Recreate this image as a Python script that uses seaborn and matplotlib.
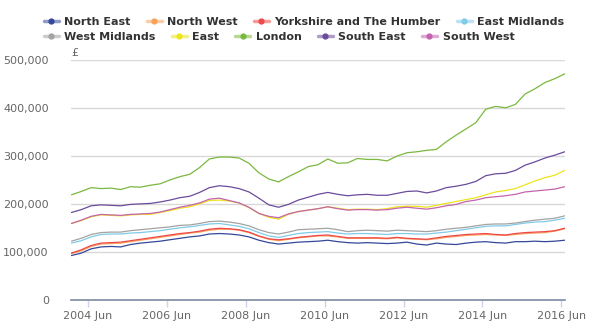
import matplotlib
matplotlib.use("Agg")
import matplotlib.pyplot as plt
import matplotlib.dates as mdates
from matplotlib.lines import Line2D
from matplotlib.ticker import FuncFormatter
import numpy as np
import pandas as pd
import seaborn as sns

# Average house price by region, quarterly from January 2004 (thousands of pounds)
dates = pd.date_range("2004-01-01", periods=51, freq="3MS")

north_east = [92, 97, 106, 110, 111, 110, 115, 118, 120, 122, 125, 128, 131, 133, 137, 138, 137,
              135, 131, 124, 119, 116, 118, 120, 121, 122, 124, 121, 119, 118, 119, 118, 117, 118,
              120, 116, 114, 118, 116, 115, 118, 120, 121, 119, 118, 121, 121, 122, 121, 122, 124]
north_west = [96, 102, 111, 116, 117, 118, 121, 124, 127, 130, 133, 136, 139, 141, 145, 147, 147,
              145, 140, 132, 126, 123, 126, 129, 131, 133, 133, 131, 128, 128, 128, 128, 127, 129,
              127, 126, 125, 127, 130, 132, 134, 135, 136, 135, 134, 136, 138, 139, 140, 143, 148]
yorkshire = [97, 104, 113, 118, 119, 120, 123, 126, 129, 132, 135, 138, 140, 143, 147, 149, 148,
             146, 141, 133, 127, 125, 127, 130, 132, 134, 135, 132, 129, 129, 129, 129, 128, 130,
             128, 127, 126, 129, 132, 134, 136, 137, 138, 136, 135, 138, 140, 141, 142, 144, 149]
east_midlands = [118, 123, 131, 136, 137, 137, 139, 140, 142, 144, 147, 150, 152, 155, 158, 159, 156,
                 153, 148, 140, 133, 130, 134, 138, 140, 141, 142, 139, 137, 138, 138, 137, 136, 138,
                 138, 137, 137, 139, 141, 144, 147, 150, 153, 154, 154, 157, 160, 162, 163, 166, 170]
west_midlands = [122, 128, 136, 140, 141, 141, 144, 146, 148, 150, 152, 155, 156, 159, 163, 164, 162,
                 159, 154, 146, 140, 137, 141, 146, 147, 148, 149, 146, 142, 144, 145, 144, 143, 145,
                 144, 143, 142, 144, 147, 149, 151, 154, 157, 158, 158, 160, 163, 166, 168, 170, 175]
east = [159, 165, 173, 177, 176, 175, 177, 178, 178, 182, 186, 191, 194, 200, 207, 208, 206,
        202, 192, 180, 172, 168, 178, 184, 187, 190, 194, 191, 188, 189, 189, 188, 190, 194,
        195, 195, 193, 197, 201, 205, 209, 213, 219, 225, 228, 232, 240, 248, 255, 260, 270]
london = [219, 226, 234, 232, 233, 230, 236, 235, 239, 242, 250, 257, 262, 276, 294, 298, 298,
          296, 285, 265, 252, 246, 257, 267, 278, 282, 294, 285, 286, 295, 293, 293, 290, 300,
          307, 309, 312, 314, 330, 344, 357, 370, 398, 404, 401, 408, 430, 441, 454, 462, 472]
south_east = [182, 188, 196, 198, 197, 196, 199, 200, 201, 204, 208, 213, 216, 224, 234, 238, 236,
              232, 225, 212, 198, 193, 199, 208, 214, 220, 224, 220, 217, 219, 220, 218, 218, 222,
              226, 227, 223, 227, 234, 237, 241, 247, 259, 263, 264, 270, 281, 288, 296, 302, 309]
south_west = [159, 166, 174, 178, 177, 176, 178, 179, 180, 183, 188, 193, 197, 202, 210, 212, 207,
              202, 193, 180, 174, 171, 179, 184, 187, 190, 194, 190, 187, 188, 188, 187, 188, 191,
              193, 191, 189, 192, 196, 199, 205, 208, 213, 215, 217, 220, 225, 227, 229, 231, 236]

regions = ["North East", "North West", "Yorkshire and The Humber", "East Midlands",
           "West Midlands", "East", "London", "South East", "South West"]
series = [north_east, north_west, yorkshire, east_midlands,
          west_midlands, east, london, south_east, south_west]
colors = ["#34489a", "#f7a35c", "#ef4848", "#80cbe8",
          "#a3a3a3", "#eee41c", "#7bb83e", "#6a4c9c", "#c464ae"]
legend_rows = [regions[:4], regions[4:]]
tick_years = list(range(2004, 2017, 2))

df = pd.concat(
    [pd.DataFrame({"date": dates, "price": np.array(v) * 1000, "region": r})
     for r, v in zip(regions, series)],
    ignore_index=True,
)

sns.set_theme(style="white")
plt.rcParams["font.family"] = ["DejaVu Sans"]

fig = plt.figure(figsize=(6, 3.36), dpi=100)
ax = fig.add_axes([0.1183, 0.1086, 0.8234, 0.7114])

sns.lineplot(data=df, x="date", y="price", hue="region", hue_order=regions,
             palette=colors, linewidth=0.9, legend=False, ax=ax)

ax.set_ylim(0, 500000)
ax.set_xlim(pd.Timestamp("2003-12-28"), pd.Timestamp("2016-07-04"))
ax.set_yticks(np.arange(0, 500001, 100000))
ax.yaxis.set_major_formatter(FuncFormatter(lambda v, _: f"{v:,.0f}"))
ax.grid(axis="y", color="#d8d8d8", linewidth=1)
ax.grid(axis="x", visible=False)
ax.set_axisbelow(True)

ax.set_xticks([pd.Timestamp(f"{y}-06-01") for y in tick_years])
ax.xaxis.set_major_formatter(mdates.DateFormatter("%Y %b"))

for side in ("top", "right", "left"):
    ax.spines[side].set_visible(False)
ax.spines["bottom"].set_color("#7d8ba0")
ax.spines["bottom"].set_linewidth(1.2)

ax.tick_params(axis="x", which="major", length=5, width=1, color="#ccd6eb",
               labelsize=8, labelcolor="#666666", pad=3, bottom=True)
ax.tick_params(axis="y", length=0, labelsize=8, labelcolor="#666666", pad=16)
ax.set_xlabel("")
ax.set_ylabel("")

ax.text(0.0, 1.01, "£", transform=ax.transAxes, fontsize=8, color="#666666",
        ha="left", va="bottom")

# Legend laid out in two left-aligned rows
color_of = dict(zip(regions, colors))
for row, y in zip(legend_rows, (0.9345, 0.890)):
    handles = []
    for r in row:
        c = color_of[r]
        line = Line2D([], [], color=c, linewidth=2.5, alpha=0.55)
        dot = Line2D([], [], color=c, marker="o", markersize=3.5, linestyle="none")
        handles.append((line, dot))
    fig.legend(handles, row, loc="center left", bbox_to_anchor=(38 / 600, y),
               ncol=len(row), frameon=False, borderpad=0, handlelength=1.35,
               handletextpad=0.5, columnspacing=1.45,
               prop={"weight": "bold", "size": 8}, labelcolor="#333333")

fig.savefig("out.png", dpi=100)
